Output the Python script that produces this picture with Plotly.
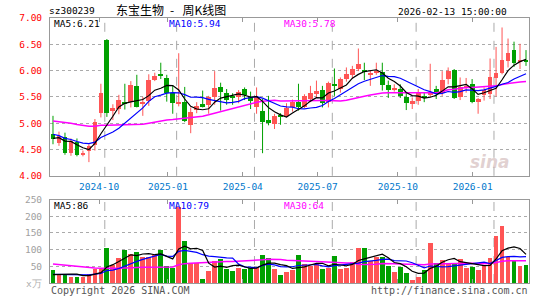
import plotly.graph_objects as go
import pandas as pd

# ---------------- data (weekly, 2024-08-09 .. 2026-02-13) ----------------
opens = [4.79, 4.62, 4.74, 4.43, 4.65, 4.41, 4.48, 4.59, 5.20, 6.58,
         5.24, 5.27, 5.41, 5.41, 5.70, 5.37, 5.42, 5.82, 5.93, 5.86,
         5.57, 5.37, 5.40, 4.96, 5.25, 5.36, 5.35, 5.49, 5.68, 5.58,
         5.50, 5.49, 5.65, 5.50, 5.31, 5.23, 5.06, 4.99, 5.16, 5.13,
         5.30, 5.40, 5.31, 5.46, 5.55, 5.63, 5.40, 5.75, 5.65, 5.84,
         5.92, 6.03, 6.01, 5.93, 5.96, 5.98, 5.73, 5.64, 5.65, 5.49,
         5.36, 5.43, 5.52, 5.54, 5.65, 5.57, 5.84, 6.01, 5.50, 5.68,
         5.75, 5.40, 5.54, 5.55, 5.86, 5.96, 6.18, 6.39, 6.18, 6.21]
closes = [4.70, 4.75, 4.43, 4.67, 4.40, 4.42, 4.57, 5.03, 5.58, 5.20,
          5.28, 5.45, 5.38, 5.72, 5.31, 5.39, 5.82, 5.90, 5.90, 5.58,
          5.38, 5.40, 5.04, 5.21, 5.32, 5.31, 5.49, 5.67, 5.60, 5.44,
          5.48, 5.60, 5.54, 5.42, 5.50, 5.02, 5.00, 5.14, 5.13, 5.29,
          5.40, 5.31, 5.52, 5.58, 5.62, 5.38, 5.77, 5.71, 5.84, 5.93,
          6.03, 6.13, 5.98, 5.95, 5.99, 5.73, 5.63, 5.66, 5.52, 5.38,
          5.43, 5.58, 5.48, 5.60, 5.57, 5.82, 5.99, 5.48, 5.69, 5.71,
          5.40, 5.46, 5.63, 5.87, 5.96, 6.21, 6.33, 6.15, 6.20, 6.18]
highs = [5.14, 4.84, 4.82, 4.71, 4.71, 4.48, 4.60, 5.08, 5.75, 6.60,
         5.36, 5.54, 5.75, 5.80, 5.92, 5.50, 5.93, 5.96, 6.15, 5.92,
         5.72, 6.33, 5.69, 5.30, 5.40, 5.62, 5.52, 5.99, 5.77, 5.65,
         5.57, 5.63, 5.68, 5.60, 5.68, 5.46, 5.52, 5.18, 5.19, 5.38,
         5.45, 5.75, 5.55, 5.71, 5.81, 5.71, 5.79, 6.04, 5.87, 6.06,
         6.09, 6.42, 6.15, 6.00, 6.15, 6.15, 5.81, 5.74, 5.74, 5.58,
         5.49, 5.65, 5.58, 6.13, 5.71, 5.99, 6.06, 6.03, 5.87, 5.86,
         5.84, 5.48, 5.68, 6.23, 6.45, 6.82, 6.61, 6.55, 6.51, 6.39]
lows = [4.60, 4.57, 4.40, 4.38, 4.37, 4.37, 4.26, 4.48, 5.11, 5.12,
        5.06, 5.17, 5.26, 5.30, 5.30, 5.14, 5.33, 5.80, 5.84, 5.41,
        5.18, 5.32, 5.02, 4.81, 5.19, 5.30, 5.18, 5.35, 5.24, 5.35,
        5.35, 5.38, 5.44, 5.27, 5.18, 4.43, 4.96, 4.89, 4.97, 5.11,
        5.22, 5.24, 5.29, 5.40, 5.49, 5.30, 5.30, 5.52, 5.58, 5.79,
        5.84, 5.99, 5.82, 5.71, 5.92, 5.62, 5.48, 5.60, 5.48, 5.25,
        5.27, 5.35, 5.40, 5.50, 5.46, 5.52, 5.74, 5.46, 5.44, 5.58,
        5.38, 5.18, 5.43, 5.46, 5.51, 5.93, 6.06, 6.07, 6.03, 6.09]
volumes = [41, 28, 24, 20, 20, 20, 28, 44, 43, 105,
           55, 75, 100, 87, 93, 80, 80, 84, 99, 52,
           46, 228, 127, 60, 60, 13, 38, 68, 73, 43,
           38, 46, 44, 47, 48, 84, 75, 43, 25, 34,
           41, 84, 58, 53, 58, 43, 46, 81, 43, 46,
           63, 105, 105, 66, 78, 78, 51, 34, 49, 31,
           11, 19, 39, 120, 61, 71, 58, 58, 72, 46,
           50, 40, 52, 75, 143, 173, 80, 70, 52, 55]
# weeks before the visible window (estimated from where the MA lines start)
closes_before = [5.10, 5.05, 4.98, 5.02, 5.08, 4.96, 5.00, 5.06,
                 5.15, 5.22, 5.30, 5.38, 5.45, 5.36, 5.28, 5.20, 5.25, 5.18, 5.12, 5.16,
                 5.02, 4.95, 4.88, 4.78, 4.72, 4.68, 4.75, 4.70, 4.72]
volumes_before = [85, 70, 90, 75, 68, 80, 72, 77,
                  65, 80, 72, 60, 88, 70, 62, 75, 68, 58, 70, 65,
                  30, 25, 28, 26, 26, 22, 20, 21, 21]

month_labels = ["2024-10", "2025-01", "2025-04", "2025-07", "2025-10", "2026-01"]
month_label_pos = [7.7, 19.2, 31.7, 44.2, 57.6, 70.1]
month_start_idx = [9, 21, 34, 47, 61, 74]
price_ticks = [4.0, 4.5, 5.0, 5.5, 6.0, 6.5, 7.0]
vol_ticks = [50, 100, 150, 200, 250]

assert len(opens) == len(closes) == len(highs) == len(lows) == len(volumes) == 80

RED = "#FF5555"
GREEN = "#00A000"
n = len(closes)
idx = list(range(n))
cols = [RED if c >= o else GREEN for o, c in zip(opens, closes)]

def ma(prev, vals, w):
    s = pd.Series(prev + vals).rolling(w).mean()
    return list(s.iloc[len(prev):])

W, H = 545, 300
ML, MR, MT, MB = 50, 16, 18, 15
PW, PH = W - ML - MR, H - MT - MB
def px(x):
    return (x - ML) / PW
def py(y):
    return (H - MB - y) / PH

fig = go.Figure()

# wicks
for colr in (RED, GREEN):
    xs, ys = [], []
    for i in idx:
        if cols[i] == colr:
            xs += [i, i, None]
            ys += [lows[i], highs[i], None]
    fig.add_trace(go.Scatter(x=xs, y=ys, mode="lines", line=dict(color=colr, width=1),
                             xaxis="x", yaxis="y", hoverinfo="skip"))
# bodies
fig.add_trace(go.Bar(x=idx, y=[max(abs(c - o), 0.012) for o, c in zip(opens, closes)],
                     base=[min(o, c) for o, c in zip(opens, closes)],
                     marker=dict(color=cols, line=dict(width=0)), width=0.8,
                     xaxis="x", yaxis="y"))
# price MAs
for w, colr, lw in ((30, "#FF00FF", 1.5), (10, "#0000FF", 1.2), (5, "#000000", 1.2)):
    fig.add_trace(go.Scatter(x=idx, y=ma(closes_before, closes, w), mode="lines",
                             line=dict(color=colr, width=lw), xaxis="x", yaxis="y"))
# volume
fig.add_trace(go.Bar(x=idx, y=volumes, marker=dict(color=cols, line=dict(width=0)), width=0.8,
                     xaxis="x2", yaxis="y2"))
for w, colr, lw in ((30, "#FF00FF", 1.5), (10, "#0000FF", 1.2), (5, "#000000", 1.2)):
    fig.add_trace(go.Scatter(x=idx, y=ma(volumes_before, volumes, w), mode="lines",
                             line=dict(color=colr, width=lw), xaxis="x2", yaxis="y2"))

MONO = "DejaVu Sans Mono"
dom_price = [py(177), 1.0]
dom_vol = [0.0, py(201)]

xcommon = dict(range=[-0.5, n - 0.5], showgrid=False, zeroline=False, showline=True,
               linecolor="#999999", linewidth=1, mirror="ticks", ticks="inside", ticklen=4,
               tickcolor="#999999", tickvals=month_label_pos, fixedrange=True)
fig.update_layout(
    width=W, height=H, margin=dict(l=ML, r=MR, t=MT, b=MB, pad=0),
    paper_bgcolor="white", plot_bgcolor="white", showlegend=False,
    barmode="overlay", bargap=0,
    xaxis=dict(xcommon, domain=[0, 1], anchor="y", ticktext=month_labels,
               tickfont=dict(family=MONO, size=9.5, color="#0077CC"),
               ticklabelstandoff=2),
    xaxis2=dict(xcommon, domain=[0, 1], anchor="y2", showticklabels=False),
    yaxis=dict(domain=dom_price, range=[4, 7], tickvals=price_ticks,
               ticktext=[f"{v:.2f}" for v in price_ticks],
               tickfont=dict(family=MONO, size=9.5, color="#FF0000"),
               showgrid=True, gridcolor="#AAAAAA", griddash="dot", gridwidth=1,
               showline=True, linecolor="#999999", mirror=True, zeroline=False,
               ticks="", ticklabelstandoff=5),
    yaxis2=dict(domain=dom_vol, range=[0, 250], tickvals=vol_ticks,
                tickfont=dict(family=MONO, size=9.5, color="#A0A0A0"),
                showgrid=True, gridcolor="#AAAAAA", griddash="dot", gridwidth=1,
                showline=True, linecolor="#999999", mirror=True, zeroline=False,
                ticks="", ticklabelstandoff=5),
)

shapes = []
for m in month_start_idx:
    for xr, yr in (("x", "y domain"), ("x2", "y2 domain")):
        shapes.append(dict(type="line", xref=xr, yref=yr, x0=m - 0.35, x1=m - 0.35, y0=0, y1=1,
                           line=dict(color="#AAAAAA", width=1, dash="dash"), layer="below"))
fig.update_layout(shapes=shapes)

def ann(text, x, y, color="black", size=9.5, anchor="left", family=MONO):
    fig.add_annotation(text=text, x=px(x), y=py(y), xref="paper", yref="paper",
                       xanchor=anchor, yanchor="middle", showarrow=False,
                       font=dict(family=family, size=size, color=color))

ann("sz300239", 47, 10)
ann("东宝生物\u2002-\u2002\u2009周K线图", 114, 9, size=12, family="Noto Sans CJK SC")
ann("2026-02-13 15:00:00", 509, 11, anchor="right")
ann("MA5:6.21", 52, 24)
ann("MA10:5.94", 167, 24, color="#0000FF")
ann("MA30:5.78", 282, 24, color="#FF00FF")
ann("MA5:86", 52, 207)
ann("MA10:79", 167, 207, color="#0000FF")
ann("MA30:64", 282, 207, color="#FF00FF")
ann("x万", 44, 286, color="#B0B0B0", anchor="right")
ann("Copyright 2026 SINA.COM", 49, 293, color="#555555", size=10)
ann("http://finance.sina.com.cn", 530, 293, color="#555555", size=10, anchor="right")
fig.add_annotation(text="<b><i>sina</i></b>", x=px(512), y=py(163), xref="paper", yref="paper",
                   showarrow=False, font=dict(family="DejaVu Sans", size=17,
                                              color="rgba(200,170,170,0.55)"))

fig.write_html("out.html")
